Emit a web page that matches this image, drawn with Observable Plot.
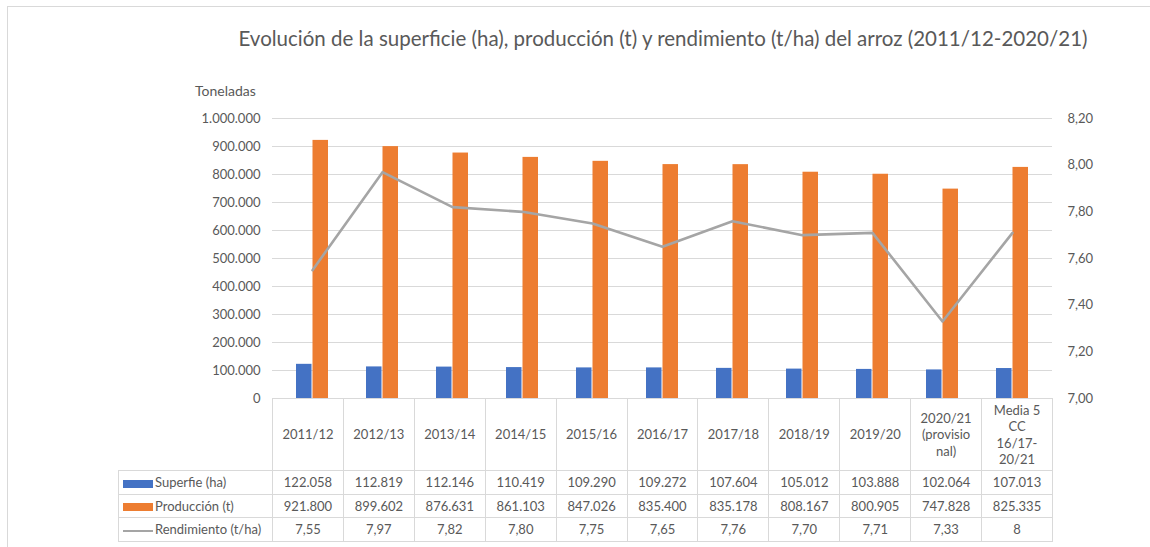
<!DOCTYPE html>
<html>
<head>
<meta charset="utf-8">
<script src="https://cdn.jsdelivr.net/npm/d3@7"></script>
<script src="https://cdn.jsdelivr.net/npm/@observablehq/plot@0.6"></script>
<style>
  html, body { margin: 0; padding: 0; background: #fff; }
  body { font-family: Lato, "Open Sans", sans-serif; color: #595959; }
  #chart { position: relative; width: 1150px; height: 547px; overflow: hidden; }
  #frame { position: absolute; left: 7px; top: 6px; width: 1160px; height: 560px; border: 1px solid #d9d9d9; box-sizing: border-box; }
  #title { position: absolute; left: 0; width: 1326px; top: 26px; text-align: center; font-size: 20.5px; color: #595959; white-space: nowrap; }
  #unit { position: absolute; left: 195px; top: 82px; font-size: 14px; color: #595959; }
  #plot { position: absolute; left: 0; top: 0; }
  #plot svg { font-family: Lato, "Open Sans", sans-serif; }
  #tbl { position: absolute; left: 118px; top: 398px; border-collapse: collapse; table-layout: fixed; width: 934px; font-size: 13px; color: #595959; }
  #tbl td { border: 1px solid #d9d9d9; text-align: center; padding: 0; overflow: visible; white-space: nowrap; }
  #tbl tr.hdr td { height: 71px; line-height: 16.5px; }
  #tbl tr.row td { height: 22.5px; }
  #tbl td.lg { text-align: left; padding-left: 4px; }
  #tbl tr.hdr td.empty { border-top: none; border-left: none; border-bottom: 1px solid #d9d9d9; }
  .sw { display: inline-block; width: 30px; height: 8px; vertical-align: middle; margin-right: 2px; }
  .ln { display: inline-block; width: 30px; height: 2.5px; vertical-align: middle; margin-right: 2px; background: #A5A5A5; }
</style>
</head>
<body>
<div id="chart">
  <div id="frame"></div>
  <div id="title"></div>
  <div id="unit"></div>
  <div id="plot"></div>
  <table id="tbl"></table>
</div>
<script>
// ---- Data ----
const categories = ["2011/12", "2012/13", "2013/14", "2014/15", "2015/16", "2016/17", "2017/18", "2018/19", "2019/20", "2020/21 (provisional)", "Media 5 CC 16/17-20/21"];
const headerLabels = ["2011/12", "2012/13", "2013/14", "2014/15", "2015/16", "2016/17", "2017/18", "2018/19", "2019/20", "2020/21\n(provisio\nnal)", "Media 5\nCC\n16/17-\n20/21"];
const superficie = [122058, 112819, 112146, 110419, 109290, 109272, 107604, 105012, 103888, 102064, 107013];
const produccion = [921800, 899602, 876631, 861103, 847026, 835400, 835178, 808167, 800905, 747828, 825335];
const rendimiento = [7.55, 7.97, 7.82, 7.80, 7.75, 7.65, 7.76, 7.70, 7.71, 7.33, 7.71];
const rendimientoLabels = ["7,55", "7,97", "7,82", "7,80", "7,75", "7,65", "7,76", "7,70", "7,71", "7,33", "8"];
const leftTicks = [0, 100000, 200000, 300000, 400000, 500000, 600000, 700000, 800000, 900000, 1000000];
const rightTicks = [7.0, 7.2, 7.4, 7.6, 7.8, 8.0, 8.2];
const seriesNames = ["Superfie (ha)", "Producción (t)", "Rendimiento (t/ha)"];
const titleText = "Evolución de la superficie (ha), producción (t) y rendimiento (t/ha) del arroz (2011/12-2020/21)";
const unitText = "Toneladas";

const colors = { sup: "#4472C4", prod: "#ED7D31", rend: "#A5A5A5" };

// ---- Helpers ----
const esLocale = d3.formatLocale({ decimal: ",", thousands: ".", grouping: [3], currency: ["", "€"] });
const fmtInt = esLocale.format(",.0f");
const fmtDec = esLocale.format(".2f");
const rMin = 7.0, rMax = 8.2, yMax = 1000000;
const toY = v => (v - rMin) / (rMax - rMin) * yMax;
const fromY = y => rMin + y / yMax * (rMax - rMin);

const data = categories.map((c, i) => ({ cat: c, sup: superficie[i], prod: produccion[i], rend: rendimiento[i] }));

document.getElementById("title").textContent = titleText;
document.getElementById("unit").textContent = unitText;

// ---- Plot ----
const chart = Plot.plot({
  width: 1150,
  height: 412,
  marginTop: 118,
  marginBottom: 14,
  marginLeft: 272,
  marginRight: 98,
  x: { type: "band", domain: categories, padding: 0, axis: null },
  y: { domain: [0, yMax], axis: null },
  marks: [
    Plot.gridY(leftTicks, { stroke: "#d9d9d9", strokeOpacity: 1, strokeWidth: 1 }),
    Plot.axisY(leftTicks, { anchor: "left", tickSize: 0, tickPadding: 12, tickFormat: d => fmtInt(d), fontSize: 13, fill: "#595959" }),
    Plot.axisY(rightTicks.map(toY), { anchor: "right", tickSize: 0, tickPadding: 15, tickFormat: d => fmtDec(fromY(d)), fontSize: 13, fill: "#595959", textAnchor: "start" }),
    Plot.barY(data, { x: "cat", y: "sup", fill: colors.sup, insetLeft: 19, insetRight: 35.5 }),
    Plot.barY(data, { x: "cat", y: "prod", fill: colors.prod, insetLeft: 35.5, insetRight: 19 }),
    Plot.line(data, { x: "cat", y: d => toY(d.rend), stroke: colors.rend, strokeWidth: 2.6, strokeLinejoin: "round" })
  ]
});
document.getElementById("plot").appendChild(chart);

// ---- Data table ----
const tbl = document.getElementById("tbl");
const colgroup = document.createElement("colgroup");
const c0 = document.createElement("col"); c0.style.width = "154px"; colgroup.appendChild(c0);
categories.forEach(() => { const c = document.createElement("col"); c.style.width = (780 / categories.length) + "px"; colgroup.appendChild(c); });
tbl.appendChild(colgroup);

const hdr = document.createElement("tr"); hdr.className = "hdr";
const e = document.createElement("td"); e.className = "empty"; hdr.appendChild(e);
headerLabels.forEach(h => { const td = document.createElement("td"); td.style.whiteSpace = "pre-line"; td.textContent = h; hdr.appendChild(td); });
tbl.appendChild(hdr);

function addRow(swatchHtml, name, values) {
  const tr = document.createElement("tr"); tr.className = "row";
  const lg = document.createElement("td"); lg.className = "lg";
  lg.innerHTML = swatchHtml; lg.appendChild(document.createTextNode(name));
  tr.appendChild(lg);
  values.forEach(v => { const td = document.createElement("td"); td.textContent = v; tr.appendChild(td); });
  tbl.appendChild(tr);
}
addRow(`<span class="sw" style="background:${colors.sup}"></span>`, seriesNames[0], superficie.map(fmtInt));
addRow(`<span class="sw" style="background:${colors.prod}"></span>`, seriesNames[1], produccion.map(fmtInt));
addRow(`<span class="ln"></span>`, seriesNames[2], rendimientoLabels);
</script>
</body>
</html>
